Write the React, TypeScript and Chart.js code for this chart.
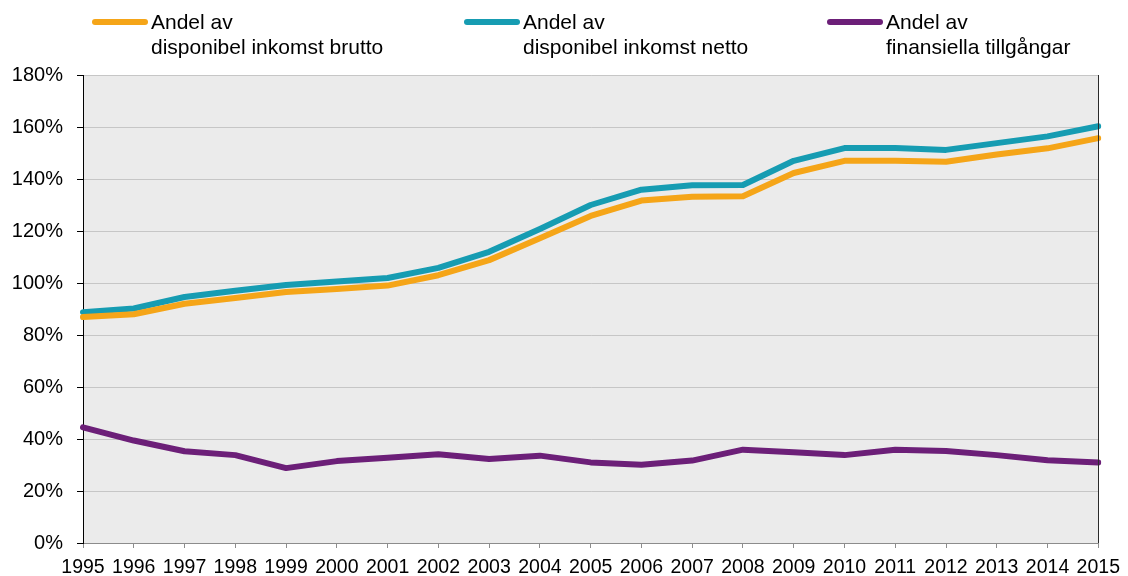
import React, { useEffect, useRef } from "react";
import { Chart, registerables } from "chart.js";

Chart.register(...registerables);

const years = ["1995","1996","1997","1998","1999","2000","2001","2002","2003","2004","2005","2006","2007","2008","2009","2010","2011","2012","2013","2014","2015"];
const brutto = [86.9, 88.0, 92.0, 94.2, 96.5, 97.7, 99.0, 103.0, 108.8, 117.2, 125.8, 131.7, 133.2, 133.4, 142.3, 147.0, 147.0, 146.6, 149.4, 151.8, 155.7];
const netto = [88.8, 90.2, 94.6, 97.0, 99.2, 100.6, 101.9, 105.8, 112.0, 120.8, 130.0, 135.9, 137.6, 137.7, 147.0, 151.9, 151.9, 151.2, 153.8, 156.4, 160.3];
const finansiella = [44.5, 39.4, 35.3, 33.8, 28.8, 31.5, 32.8, 34.1, 32.3, 33.6, 31.0, 30.1, 31.7, 35.9, 34.9, 33.8, 35.9, 35.4, 33.8, 31.8, 31.0];
const legendLabels = [
  ["Andel av", "disponibel inkomst brutto"],
  ["Andel av", "disponibel inkomst netto"],
  ["Andel av", "finansiella tillgångar"],
];
const colors = ["#F5A518", "#169CB2", "#6C1F78"];
const FONT = "'Liberation Sans', Arial, sans-serif";

const bgPlugin = {
  id: "bgPlugin",
  beforeDraw(chart: any) {
    const { ctx, chartArea: a } = chart;
    ctx.save();
    ctx.fillStyle = "#EBEBEB";
    ctx.fillRect(a.left, a.top, a.right - a.left, a.bottom - a.top);
    ctx.restore();
  },
  afterDraw(chart: any) {
    const { ctx, chartArea: a } = chart;
    ctx.save();
    ctx.strokeStyle = "#2a2a2a";
    ctx.lineWidth = 1;
    ctx.beginPath();
    ctx.moveTo(Math.round(a.right) + 0.5, a.top);
    ctx.lineTo(Math.round(a.right) + 0.5, a.bottom);
    ctx.stroke();
    // legend
    const xs = [92, 464, 827];
    chart.data.datasets.forEach((ds: any, i: number) => {
      const x = xs[i];
      ctx.strokeStyle = ds.borderColor;
      ctx.lineWidth = 6;
      ctx.lineCap = "round";
      ctx.beginPath();
      ctx.moveTo(x + 3, 22);
      ctx.lineTo(x + 53, 22);
      ctx.stroke();
      ctx.fillStyle = "#000";
      ctx.font = `21px ${FONT}`;
      ctx.textBaseline = "alphabetic";
      ctx.textAlign = "left";
      const lines = legendLabels[i];
      lines.forEach((t, j) => ctx.fillText(t, x + 59, 29 + j * 25));
    });
    ctx.restore();
  },
};

export default function App() {
  const ref = useRef<HTMLCanvasElement>(null);
  useEffect(() => {
    if (!ref.current) return;
    const chart = new Chart(ref.current, {
      type: "line",
      data: {
        labels: years,
        datasets: [
          { label: legendLabels[0].join(" "), data: brutto, borderColor: colors[0], backgroundColor: colors[0] },
          { label: legendLabels[1].join(" "), data: netto, borderColor: colors[1], backgroundColor: colors[1] },
          { label: legendLabels[2].join(" "), data: finansiella, borderColor: colors[2], backgroundColor: colors[2] },
        ].map((d) => ({ ...d, borderWidth: 6, pointRadius: 0, tension: 0, borderJoinStyle: "round" as const, borderCapStyle: "round" as const })),
      },
      options: {
        animation: false,
        responsive: false,
        layout: { padding: { top: 75, right: 24, left: 0, bottom: 0 } },
        plugins: { legend: { display: false }, tooltip: { enabled: false } },
        scales: {
          x: {
            offset: false,
            grid: { drawOnChartArea: false, drawTicks: true, tickLength: 5, tickColor: "#8c8c8c" },
            border: { color: "#8c8c8c", width: 1 },
            ticks: { color: "#000", font: { family: FONT, size: 19.5 }, padding: 8, maxRotation: 0, autoSkip: false },
            afterFit(scale: any) { scale.height = 33; },
          },
          y: {
            min: 0,
            max: 180,
            grid: { color: "#C6C6C6", tickColor: "#000", tickLength: 6, lineWidth: 1 },
            border: { color: "#000", width: 1 },
            ticks: { stepSize: 20, color: "#000", font: { family: FONT, size: 20 }, padding: 14, callback: (v: any) => `${v}%` },
            afterFit(scale: any) { scale.width = 83; },
          },
        },
      },
      plugins: [bgPlugin],
    });
    return () => chart.destroy();
  }, []);
  return (
    <div style={{ position: "absolute", left: 0, top: 0, width: 1128, height: 576, background: "#fff" }}>
      <canvas ref={ref} width={1128} height={576} />
    </div>
  );
}
